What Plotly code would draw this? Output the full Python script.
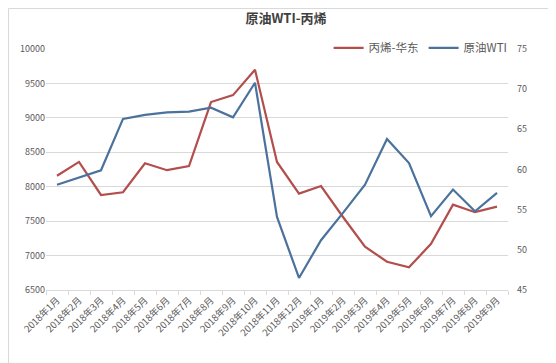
import plotly.graph_objects as go

categories = ["2018年1月", "2018年2月", "2018年3月", "2018年4月", "2018年5月", "2018年6月",
              "2018年7月", "2018年8月", "2018年9月", "2018年10月", "2018年11月", "2018年12月",
              "2019年1月", "2019年2月", "2019年3月", "2019年4月", "2019年5月", "2019年6月",
              "2019年7月", "2019年8月", "2019年9月"]
propylene = [8160, 8360, 7880, 7920, 8340, 8240, 8300, 9230, 9330, 9700, 8360, 7900,
             8010, 7560, 7130, 6910, 6830, 7170, 7740, 7630, 7710]
wti = [58.1, 59.0, 59.9, 66.3, 66.8, 67.1, 67.2, 67.7, 66.5, 70.8, 54.1, 46.5,
       51.2, 54.6, 58.1, 63.8, 60.8, 54.2, 57.5, 54.8, 57.1]
left_ticks = [6500, 7000, 7500, 8000, 8500, 9000, 9500, 10000]
left_labels = ["6500", "7000", "7500", "8000", "8500", "9000", "9500", "10000"]
right_ticks = [45, 50, 55, 60, 65, 70, 75]

RED = "#B24E4C"
BLUE = "#4A729C"
FONT = "Noto Sans CJK SC"

W, H = 556, 363
ML, MR, MT, MB = 38, 56, 41, 81
PW, PH = W - ML - MR, H - MT - MB

fig = go.Figure()
fig.add_trace(go.Scatter(x=categories, y=propylene, name="丙烯-华东", mode="lines",
                         line=dict(color=RED, width=2.2), yaxis="y"))
fig.add_trace(go.Scatter(x=categories, y=wti, name="原油WTI", mode="lines",
                         line=dict(color=BLUE, width=2.2), yaxis="y2"))

fig.add_shape(type="rect", xref="paper", yref="paper",
              x0=(-ML + 0.5) / PW, x1=(W - ML - 0.5) / PW,
              y0=(-MB + 0.5) / PH, y1=(H - MB - 0.5) / PH,
              line=dict(color="#D9D9D9", width=1), fillcolor="rgba(0,0,0,0)", layer="below")

fig.update_layout(
    width=W, height=H,
    margin=dict(l=ML, r=MR, t=MT, b=MB),
    paper_bgcolor="white", plot_bgcolor="white",
    font=dict(family=FONT, color="#595959", size=9),
    title=dict(text="<b>原油WTI-丙烯</b>", x=0.5, xanchor="center", y=0.972, yanchor="middle",
               font=dict(family=FONT, size=13, color="#404040")),
    showlegend=True,
    legend=dict(orientation="h", x=1.01, xanchor="right", y=1.065, yanchor="top",
                font=dict(family=FONT, size=11.5, color="#595959"),
                bgcolor="rgba(255,255,255,0)", itemwidth=30, tracegroupgap=0),
    xaxis=dict(type="category", tickangle=-45, showgrid=False, showline=True,
               linecolor="#D9D9D9", linewidth=1, ticks="outside", tickcolor="#D9D9D9",
               ticklen=4, tickson="boundaries", range=[-0.5, 20.5],
               tickfont=dict(size=9.5, color="#595959")),
    yaxis=dict(range=[6500, 10000], tickvals=left_ticks, ticktext=left_labels, showgrid=True,
               gridcolor="#D9D9D9", gridwidth=1, zeroline=False, showline=False,
               ticks="", tickfont=dict(size=9, color="#595959")),
    yaxis2=dict(range=[45, 75], tickvals=right_ticks, overlaying="y", side="right",
                showgrid=False, zeroline=False, showline=False,
                tickfont=dict(size=9, color="#595959"), ticklabelstandoff=8),
)

fig.write_html("out.html")
